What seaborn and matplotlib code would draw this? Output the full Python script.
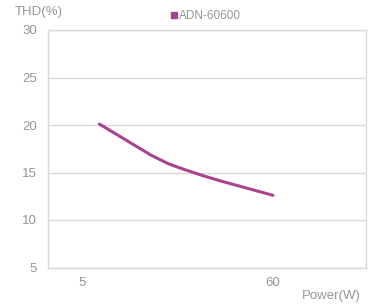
import matplotlib
matplotlib.use("Agg")
import matplotlib.pyplot as plt
import seaborn as sns
import pandas as pd
from matplotlib.lines import Line2D

power = [10, 15, 20, 25, 30, 35, 40, 45, 50, 55, 60]
thd = [20.1, 19.0, 17.9, 16.8, 15.9, 15.25, 14.65, 14.1, 13.6, 13.1, 12.6]
series_name = "ADN-60600"
x_ticks = [5, 60]
y_ticks = [5, 10, 15, 20, 25, 30]

sns.set_theme(style="white")
plt.rcParams['font.family'] = ['Liberation Sans', 'DejaVu Sans']

color = "#A8438F"
grey = "#969696"
grid = "#D9D9D9"

df = pd.DataFrame({"Power": power, "THD": thd})
fig = plt.figure(figsize=(3.7, 3.08), dpi=100)
ax = fig.add_axes([48/370, 1-267.5/308, (366-48)/370, (267.5-30)/308])
sns.lineplot(data=df, x="Power", y="THD", ax=ax, color=color, linewidth=2.2)

ax.set_xlim(-4.8, 86.8)
ax.set_ylim(5, 30)
ax.set_xticks(x_ticks)
ax.set_yticks(y_ticks)
ax.yaxis.grid(True, color=grid, linewidth=1)
ax.xaxis.grid(False)
for s in ["left", "right", "bottom", "top"]:
    ax.spines[s].set_color(grid)
    ax.spines[s].set_linewidth(1)
ax.tick_params(axis="both", length=0, labelsize=9.5, labelcolor=grey)
ax.tick_params(axis="y", pad=8)
ax.tick_params(axis="x", pad=7)
ax.set_xlabel("")
ax.set_ylabel("")

fig.text(15/370, 1-12/308, "THD(%)", fontsize=9.5, color=grey, va="center", ha="left")
fig.text(361/370, 1-296/308, "Power(W)", fontsize=9.5, color=grey, va="center", ha="right")

handle = Line2D([], [], marker="s", linestyle="none", color=color, markersize=5)
fig.legend([handle], [series_name], loc="center", bbox_to_anchor=(205/370, 1-16/308),
           frameon=False, fontsize=8.5, labelcolor=grey, handletextpad=0.0,
           handlelength=0.8, borderpad=0)

fig.savefig("out.png", dpi=100)
